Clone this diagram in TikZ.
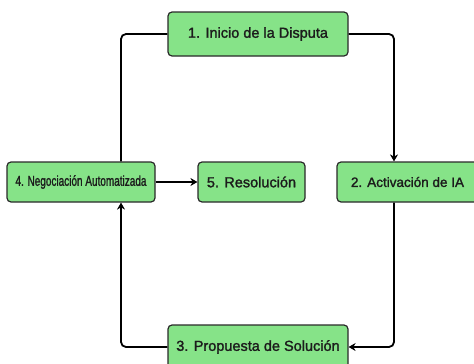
\documentclass[tikz,border=0pt]{standalone}
\usepackage{fontspec}
\setmainfont{Liberation Sans}[RawFeature={embolden=1.6}]
\usetikzlibrary{arrows.meta}
\definecolor{boxfill}{HTML}{86E388}
\definecolor{boxline}{HTML}{2A2A2A}
\definecolor{txt}{HTML}{1C1C1C}
\tikzset{
  stepbox/.style={draw=boxline, line width=1.2pt, fill=boxfill, rounded corners=4pt, text=txt, inner sep=0pt, font=\fontsize{14.5}{16}\selectfont},
  conn/.style={draw=black, line width=1.8pt, rounded corners=5pt},
  arr/.style={conn, -{Stealth[length=7pt,width=8pt]}}
}
\begin{document}
\begin{tikzpicture}[x=1pt,y=-1pt]
\useasboundingbox (0,0) rectangle (474,364);
\fill[white] (0,0) rectangle (474,364);
\clip (0,0) rectangle (474,364);
\node[stepbox, minimum width=180pt, minimum height=44pt] (n1) at (258,34) {1. Inicio de la Disputa};
\node[stepbox, minimum width=141pt, minimum height=40pt] (n2) at (407.5,182) {\fontsize{13.5}{15}\selectfont 2. Activación de IA};
\node[stepbox, minimum width=180pt, minimum height=44pt] (n3) at (258,347) {3. Propuesta de Solución};
\node[stepbox, minimum width=148pt, minimum height=40pt] (n4) at (81,182) {\resizebox{131pt}{10.6pt}{\fontsize{12}{14}\selectfont 4. Negociación Automatizada}};
\node[stepbox, minimum width=107pt, minimum height=40pt] (n5) at (251.5,182) {5. Resolución};
\coordinate (c1) at (394,34);
\coordinate (c2) at (394,347);
\coordinate (c3) at (121,347);
\coordinate (c4) at (121,34);
\draw[arr] (n1.east) -- (c1) -- (c1 |- n2.north);
\draw[arr] (c1 |- n2.south) -- (c2) -- (n3.east);
\draw[arr] (n3.west) -- (c3) -- (c3 |- n4.south);
\draw[conn] (n1.west) -- (c4) -- (c4 |- n4.north);
\draw[arr] (n4.east) -- (n5.west);
\end{tikzpicture}
\end{document}
